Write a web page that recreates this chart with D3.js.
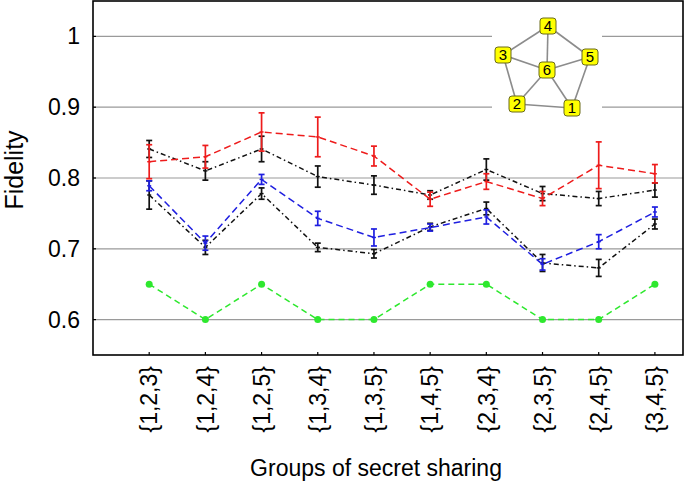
<!DOCTYPE html>
<html>
<head>
<meta charset="utf-8">
<script src="https://cdn.jsdelivr.net/npm/d3@7"></script>
<style>
  html, body { margin: 0; padding: 0; background: #fff; }
  svg { display: block; font-family: "Liberation Sans", Arial, Helvetica, sans-serif; }
</style>
</head>
<body>
<svg id="chart" width="685" height="486"></svg>
<script>
// values
const groups = ["{1,2,3}", "{1,2,4}", "{1,2,5}", "{1,3,4}", "{1,3,5}", "{1,4,5}", "{2,3,4}", "{2,3,5}", "{2,4,5}", "{3,4,5}"];
const yTicks = [0.6, 0.7, 0.8, 0.9, 1];

const redVals = [0.823, 0.830, 0.865, 0.858, 0.831, 0.770, 0.795, 0.771, 0.818, 0.806];
const redErr  = [0.024, 0.016, 0.027, 0.028, 0.014, 0.010, 0.011, 0.010, 0.033, 0.013];

const blackHiVals = [0.841, 0.810, 0.841, 0.802, 0.790, 0.776, 0.812, 0.778, 0.771, 0.783];
const blackHiErr  = [0.012, 0.013, 0.018, 0.015, 0.013, 0.006, 0.015, 0.010, 0.010, 0.010];

const blueVals = [0.789, 0.708, 0.798, 0.743, 0.716, 0.730, 0.745, 0.678, 0.710, 0.752];
const blueErr  = [0.007, 0.010, 0.007, 0.010, 0.012, 0.005, 0.010, 0.008, 0.010, 0.007];

const blackLoVals = [0.776, 0.702, 0.778, 0.702, 0.693, 0.731, 0.757, 0.680, 0.673, 0.735];
const blackLoErr  = [0.020, 0.010, 0.008, 0.006, 0.006, 0.005, 0.009, 0.012, 0.012, 0.007];

const greenVals = [0.65, 0.60, 0.65, 0.60, 0.60, 0.65, 0.65, 0.60, 0.60, 0.65];

// inset graph (layout in pixels)
const insetNodes = [
    { id: "1", x: 572, y: 108 },
    { id: "2", x: 517, y: 104 },
    { id: "3", x: 503, y: 55 },
    { id: "4", x: 548, y: 26 },
    { id: "5", x: 590, y: 57 },
    { id: "6", x: 547, y: 70 }
];
const insetEdges = [["4", "3"], ["4", "6"], ["4", "5"], ["3", "6"], ["3", "2"], ["6", "5"], ["6", "2"], ["6", "1"], ["2", "1"], ["5", "1"]];

const plotL = 93, plotR = 683, plotT = 1, plotB = 355;

const svg = d3.select("#chart");

const x = d3.scaleLinear().domain([-1, 9.5]).range([plotL, plotR]);
const y = d3.scaleLinear().domain([0.55, 1.05]).range([plotB, plotT]);

// grid lines
svg.append("g")
    .selectAll("line")
    .data(yTicks)
    .join("line")
    .attr("x1", plotL).attr("x2", plotR)
    .attr("y1", d => y(d)).attr("y2", d => y(d))
    .attr("stroke", "#9a9a9a")
    .attr("stroke-width", 1.2);

// white patch behind the inset
svg.append("rect")
    .attr("x", 492).attr("y", 8)
    .attr("width", 110).attr("height", 110)
    .attr("fill", "#fff");

// y axis labels
svg.append("g")
    .selectAll("text")
    .data(yTicks)
    .join("text")
    .attr("x", 80)
    .attr("y", d => y(d))
    .attr("dy", "0.35em")
    .attr("text-anchor", "end")
    .attr("font-size", 23)
    .text(d => d === 1 ? "1" : d3.format(".1f")(d));

// x ticks (inward)
svg.append("g")
    .selectAll("line")
    .data(groups)
    .join("line")
    .attr("x1", (d, i) => x(i)).attr("x2", (d, i) => x(i))
    .attr("y1", plotB).attr("y2", plotB - 3)
    .attr("stroke", "#000")
    .attr("stroke-width", 1.2);

// y ticks (inward)
svg.append("g")
    .selectAll("line")
    .data(yTicks)
    .join("line")
    .attr("x1", plotL).attr("x2", plotL + 3)
    .attr("y1", d => y(d)).attr("y2", d => y(d))
    .attr("stroke", "#000")
    .attr("stroke-width", 1.2);

// x tick labels
svg.append("g")
    .selectAll("text")
    .data(groups)
    .join("text")
    .attr("transform", (d, i) => `translate(${x(i)},366) rotate(-90)`)
    .attr("dy", "0.36em")
    .attr("text-anchor", "end")
    .attr("font-size", 23)
    .text(d => d);

// axis titles
svg.append("text")
    .attr("x", 376).attr("y", 476)
    .attr("text-anchor", "middle")
    .attr("font-size", 23)
    .text("Groups of secret sharing");

svg.append("text")
    .attr("transform", "translate(14,170) rotate(-90)")
    .attr("dy", "0.36em")
    .attr("text-anchor", "middle")
    .attr("font-size", 25)
    .text("Fidelity");

// series
const line = d3.line().x((d, i) => x(i)).y(d => y(d));

function drawSeries(vals, errs, color, dash) {
    const g = svg.append("g");
    g.append("path")
        .datum(vals)
        .attr("d", line)
        .attr("fill", "none")
        .attr("stroke", color)
        .attr("stroke-width", 1.5)
        .attr("stroke-dasharray", dash);
    if (!errs) return g;
    const bars = g.selectAll(".err")
        .data(vals)
        .join("g")
        .attr("class", "err");
    bars.append("line")
        .attr("x1", (d, i) => x(i)).attr("x2", (d, i) => x(i))
        .attr("y1", (d, i) => y(d - errs[i])).attr("y2", (d, i) => y(d + errs[i]))
        .attr("stroke", color).attr("stroke-width", 1.7);
    bars.append("line")
        .attr("x1", (d, i) => x(i) - 3).attr("x2", (d, i) => x(i) + 3)
        .attr("y1", (d, i) => y(d + errs[i])).attr("y2", (d, i) => y(d + errs[i]))
        .attr("stroke", color).attr("stroke-width", 1.7);
    bars.append("line")
        .attr("x1", (d, i) => x(i) - 3).attr("x2", (d, i) => x(i) + 3)
        .attr("y1", (d, i) => y(d - errs[i])).attr("y2", (d, i) => y(d - errs[i]))
        .attr("stroke", color).attr("stroke-width", 1.7);
    bars.append("line")
        .attr("x1", (d, i) => x(i) - 2).attr("x2", (d, i) => x(i) + 2)
        .attr("y1", d => y(d)).attr("y2", d => y(d))
        .attr("stroke", color).attr("stroke-width", 1.4);
    return g;
}

const green = drawSeries(greenVals, null, "#2ee82e", "6,4");
green.selectAll("circle")
    .data(greenVals)
    .join("circle")
    .attr("cx", (d, i) => x(i))
    .attr("cy", d => y(d))
    .attr("r", 3.5)
    .attr("fill", "#2ee82e");

drawSeries(blackLoVals, blackLoErr, "#111", "5,3,1.5,3");
drawSeries(blueVals, blueErr, "#1f1fe0", "7,4");
drawSeries(blackHiVals, blackHiErr, "#111", "5,3,1.5,3");
drawSeries(redVals, redErr, "#ee1c1c", "7,4");

// frame
svg.append("rect")
    .attr("x", plotL).attr("y", plotT)
    .attr("width", plotR - plotL).attr("height", plotB - plotT)
    .attr("fill", "none")
    .attr("stroke", "#000")
    .attr("stroke-width", 1.6);

// inset graph
const nodeById = new Map(insetNodes.map(n => [n.id, n]));
const inset = svg.append("g");
inset.selectAll("line")
    .data(insetEdges)
    .join("line")
    .attr("x1", d => nodeById.get(d[0]).x).attr("y1", d => nodeById.get(d[0]).y)
    .attr("x2", d => nodeById.get(d[1]).x).attr("y2", d => nodeById.get(d[1]).y)
    .attr("stroke", "#8c8c8c")
    .attr("stroke-width", 1.6);

const nodeG = inset.selectAll(".node")
    .data(insetNodes)
    .join("g")
    .attr("class", "node")
    .attr("transform", d => `translate(${d.x},${d.y})`);
nodeG.append("rect")
    .attr("x", -8).attr("y", -8)
    .attr("width", 16).attr("height", 16)
    .attr("rx", 3)
    .attr("fill", "#ffff00")
    .attr("stroke", "#6b6b1a")
    .attr("stroke-width", 1);
nodeG.append("text")
    .attr("text-anchor", "middle")
    .attr("dy", "0.36em")
    .attr("font-size", 15)
    .text(d => d.id);
</script>
</body>
</html>
